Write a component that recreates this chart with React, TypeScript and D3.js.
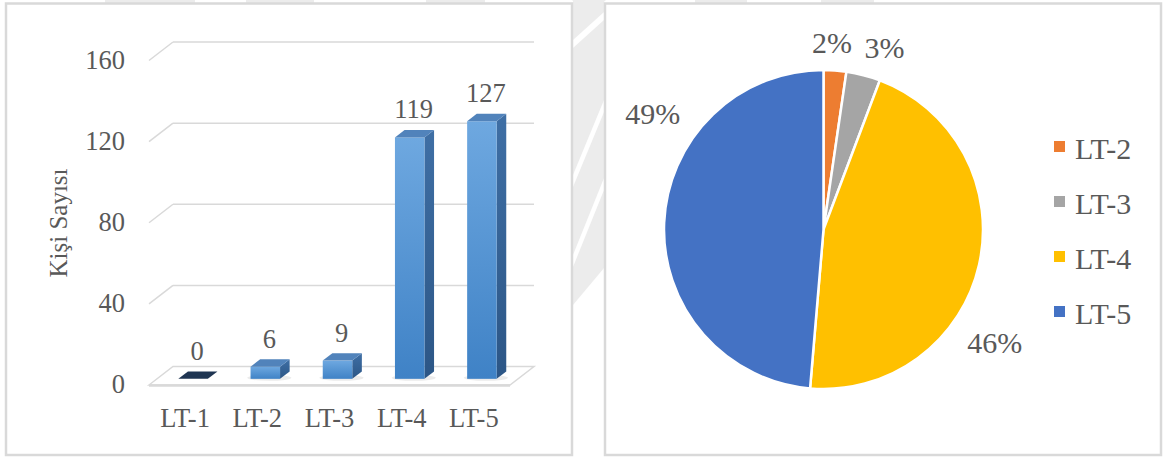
import React from 'react';
import * as d3 from 'd3';

// ---------- data ----------
const categories = ['LT-1', 'LT-2', 'LT-3', 'LT-4', 'LT-5'];
const counts = [0, 6, 9, 119, 127];
const yTicks = [0, 40, 80, 120, 160];
const yTitle = 'Kişi Sayısı';

const pieCategories = ['LT-2', 'LT-3', 'LT-4', 'LT-5'];
const pieValues = [6, 9, 119, 127];
const pieColors = ['#ED7D31', '#A5A5A5', '#FFC000', '#4472C4'];

// ---------- layout ----------
const W = 1171;
const H = 457;
const FONT = '"Liberation Serif", "Times New Roman", serif';
const TEXT = '#595959';
const GRID = '#d9d9d9';

// bar chart geometry (oblique 3D)
const floorFrontY = 385;
const frontX0 = 149;
const frontX1 = 510;
const depthDx = 24;
const depthDy = -18.5;
const barPos = 1 / 3; // bar depth position
const barDepth = 0.4;
const barW = 29.5;
const barFont = 26.5;

// pie geometry
const pieCx = 823.5;
const pieCy = 229.5;
const pieR = 159.5;
const labelR = 188;
const pieFont = 30;
const labelNudge: [number, number][] = [
  [-5, 0],
  [14, 0],
  [-12, 71],
  [17, -108],
];

// faint background watermark pieces (decorative)
const wmTop: [number, number][] = [
  [105, 195],
  [246, 314],
  [426, 485],
  [695, 747],
  [821, 874],
];

export default function App() {
  const y = d3.scaleLinear().domain([0, 160]).range([floorFrontY, 60.5]);
  const x = d3.scaleBand<string>().domain(categories).range([frontX0, frontX1]).padding(0);

  const bdx = depthDx * barPos;
  const bdy = depthDy * barPos;
  const odx = depthDx * barDepth;
  const ody = depthDy * barDepth;

  const pieGen = d3.pie<number>().sort(null).value((d) => d);
  const arcs = pieGen(pieValues);
  const arcGen = d3.arc<d3.PieArcDatum<number>>().innerRadius(0).outerRadius(pieR);
  const total = d3.sum(pieValues);
  const pct = d3.format('.0%');

  return (
    <svg
      width={W}
      height={H}
      style={{ position: 'absolute', left: 0, top: 0, background: '#fff' }}
      fontFamily={FONT}
    >
      <defs>
        <linearGradient id="barFront" x1="0" y1="0" x2="0" y2="1">
          <stop offset="0%" stopColor="#6ea8e0" />
          <stop offset="100%" stopColor="#3f82c6" />
        </linearGradient>
        <linearGradient id="barSide" x1="0" y1="0" x2="0" y2="1">
          <stop offset="0%" stopColor="#3f6fa5" />
          <stop offset="100%" stopColor="#2c5686" />
        </linearGradient>
      </defs>

      {/* faint watermark */}
      <g fill="#ececec">
        {wmTop.map(([a, b]) => (
          <rect key={a} x={a} y={0} width={b - a} height={4} />
        ))}
        <polygon points="573,0 604,0 604,268 573,305" />
        <polygon points="572,0 606,0 589,14" />
      </g>
      <g fill="#fff">
        <polygon points="573,40 604,12 604,20 573,48" />
        <polygon points="573,175 604,100 604,112 573,187" />
        <polygon points="573,255 604,178 604,190 573,267" />
      </g>

      {/* panels */}
      <rect x={6} y={3.5} width={566} height={451.5} fill="#fff" stroke={GRID} strokeWidth={2.5} />
      <rect x={605} y={3.5} width={556} height={451.5} fill="#fff" stroke={GRID} strokeWidth={2.5} />

      {/* ---------- bar chart ---------- */}
      {/* floor */}
      <polygon
        points={[
          [frontX0, y(0)],
          [frontX0 + depthDx, y(0) + depthDy],
          [frontX1 + depthDx, y(0) + depthDy],
          [frontX1, y(0)],
        ]
          .map((p) => p.join(','))
          .join(' ')}
        fill="#fff"
        stroke={GRID}
        strokeWidth={1.5}
      />
      <line x1={frontX0} x2={frontX1} y1={y(0) + 0.5} y2={y(0) + 0.5} stroke={GRID} strokeWidth={2.5} />
      {/* grid lines */}
      {yTicks.map((t) => (
        <g key={t}>
          {t > 0 && (
            <>
              <line
                x1={frontX0 + depthDx}
                x2={frontX1 + depthDx}
                y1={y(t) + depthDy}
                y2={y(t) + depthDy}
                stroke={GRID}
                strokeWidth={1.5}
              />
              <line
                x1={frontX0}
                x2={frontX0 + depthDx}
                y1={y(t)}
                y2={y(t) + depthDy}
                stroke={GRID}
                strokeWidth={1.5}
              />
            </>
          )}
          <text
            x={125}
            y={y(t) - 1}
            textAnchor="end"
            dominantBaseline="central"
            fontSize={barFont}
            fill={TEXT}
          >
            {t}
          </text>
        </g>
      ))}

      {/* bars */}
      {categories.map((c, i) => {
        const v = counts[i];
        const cx = (x(c) as number) + x.bandwidth() / 2 + bdx;
        const x0 = cx - barW / 2;
        const x1 = cx + barW / 2;
        const yb = y(0) + bdy;
        const yt = y(v) + bdy;
        const topPts = [
          [x0, yt],
          [x0 + odx, yt + ody],
          [x1 + odx, yt + ody],
          [x1, yt],
        ];
        const sidePts = [
          [x1, yt],
          [x1 + odx, yt + ody],
          [x1 + odx, yb + ody],
          [x1, yb],
        ];
        return (
          <g key={c}>
            {v > 0 ? (
              <>
                <ellipse cx={cx + 4} cy={yb - 1} rx={barW * 0.75} ry={3} fill="#000" opacity={0.08} />
                <polygon points={sidePts.map((p) => p.join(',')).join(' ')} fill="url(#barSide)" />
                <rect x={x0} y={yt} width={barW} height={yb - yt} fill="url(#barFront)" />
                <polygon points={topPts.map((p) => p.join(',')).join(' ')} fill="#5183bb" />
              </>
            ) : (
              <polygon points={topPts.map((p) => p.join(',')).join(' ')} fill="#1f3552" />
            )}
            <text
              x={cx + 4}
              y={yt - 28}
              textAnchor="middle"
              dominantBaseline="central"
              fontSize={barFont}
              fill={TEXT}
            >
              {v}
            </text>
            <text
              x={(x(c) as number) + x.bandwidth() / 2}
              y={418}
              textAnchor="middle"
              dominantBaseline="central"
              fontSize={barFont}
              fill={TEXT}
            >
              {c}
            </text>
          </g>
        );
      })}

      <text
        transform={`translate(58,223) rotate(-90)`}
        textAnchor="middle"
        dominantBaseline="central"
        fontSize={25}
        fill={TEXT}
      >
        {yTitle}
      </text>

      {/* ---------- pie chart ---------- */}
      <g transform={`translate(${pieCx},${pieCy})`}>
        {arcs.map((a, i) => (
          <path key={i} d={arcGen(a) as string} fill={pieColors[i]} stroke="#fff" strokeWidth={2.5} />
        ))}
        {arcs.map((a, i) => {
          const mid = (a.startAngle + a.endAngle) / 2;
          const lx = labelR * Math.sin(mid) + labelNudge[i][0];
          const ly = -labelR * Math.cos(mid) + labelNudge[i][1];
          return (
            <text
              key={i}
              x={lx}
              y={ly}
              textAnchor="middle"
              dominantBaseline="central"
              fontSize={pieFont}
              fill={TEXT}
            >
              {pct(pieValues[i] / total)}
            </text>
          );
        })}
      </g>

      {/* legend */}
      {pieCategories.map((c, i) => (
        <g key={c} transform={`translate(1054,${148 + i * 55})`}>
          <rect x={0} y={-7} width={11} height={11} fill={pieColors[i]} />
          <text x={21} y={0} dominantBaseline="central" fontSize={pieFont} fill={TEXT}>
            {c}
          </text>
        </g>
      ))}
    </svg>
  );
}
